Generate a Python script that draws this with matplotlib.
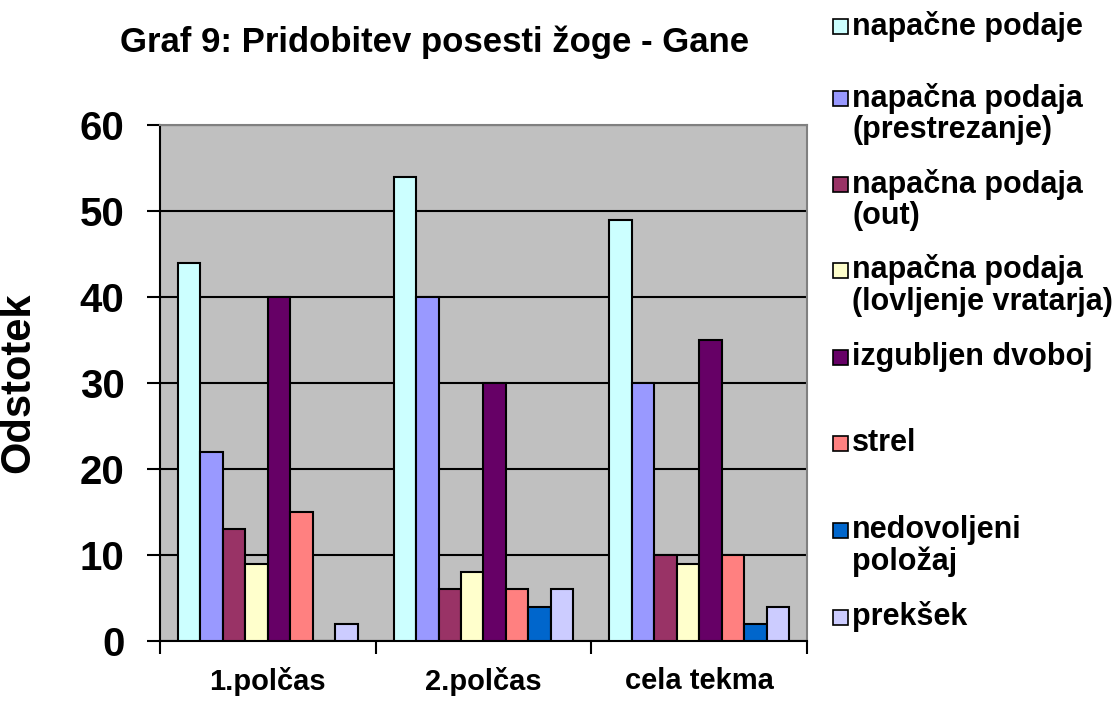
import matplotlib.pyplot as plt
import numpy as np
from matplotlib.patches import Rectangle

plt.rcParams['font.family'] = ['Liberation Sans', 'DejaVu Sans']
plt.rcParams['font.weight'] = 'bold'
plt.rcParams['axes.labelweight'] = 'bold'

categories = ["1.polčas", "2.polčas", "cela tekma"]
series = [
    "napačne podaje",
    "napačna podaja\n(prestrezanje)",
    "napačna podaja\n(out)",
    "napačna podaja\n(lovljenje vratarja)",
    "izgubljen dvoboj",
    "strel",
    "nedovoljeni\npoložaj",
    "prekšek",
]
napacne_podaje = [44, 54, 49]
prestrezanje = [22, 40, 30]
out = [13, 6, 10]
lovljenje_vratarja = [9, 8, 9]
izgubljen_dvoboj = [40, 30, 35]
strel = [15, 6, 10]
nedovoljeni_polozaj = [0, 4, 2]
preksek = [2, 6, 4]
values = [napacne_podaje, prestrezanje, out, lovljenje_vratarja,
          izgubljen_dvoboj, strel, nedovoljeni_polozaj, preksek]
colors = ["#CCFFFF", "#9999FF", "#993366", "#FFFFCC",
          "#660066", "#FF8080", "#0066CC", "#CCCCFF"]

fig = plt.figure(figsize=(11.16, 7.03), dpi=100)
ax = fig.add_axes([160 / 1116, 1 - 641 / 703, (807 - 160) / 1116, (641 - 125) / 703])
ax.set_facecolor("#C0C0C0")

x = np.arange(len(categories))
w = 0.1043
for j, vals in enumerate(values):
    ax.bar(x + (j - 3.5) * w, vals, w, color=colors[j], edgecolor="black",
           linewidth=1.5, zorder=3)

ax.set_xlim(-0.5, 2.5)
ax.set_ylim(0, 60)
ax.set_yticks(range(0, 61, 10))
ax.yaxis.grid(True, color="black", linewidth=1.5, zorder=1)
ax.set_axisbelow(True)

ax.set_xticks(x)
ax.set_xticklabels(categories, fontsize=21)
ax.tick_params(axis="x", length=0, pad=19)
ax.set_xticks([-0.5, 0.5, 1.5, 2.5], minor=True)
ax.tick_params(axis="x", which="minor", length=9, width=1.5, direction="out")
ax.tick_params(axis="y", length=9.5, width=1.5, direction="out", pad=16, labelsize=29)

for s in ["left", "bottom"]:
    ax.spines[s].set_linewidth(1.5)
    ax.spines[s].set_color("black")
for s in ["top", "right"]:
    ax.spines[s].set_linewidth(1.5)
    ax.spines[s].set_color("#808080")

ax.set_ylabel("Odstotek", fontsize=30)
ax.yaxis.set_label_coords(-0.188, 0.5)

fig.text(435 / 1116, 1 - 42 / 703, "Graf 9: Pridobitev posesti žoge - Gane",
         fontsize=25, ha="center", va="center")

# legend drawn by hand to follow the original spacing
entry_y = [26, 98, 184, 270, 357, 443, 530, 617]
for label, col, y in zip(series, colors, entry_y):
    fig.patches.append(Rectangle((833 / 1116, 1 - (y + 8) / 703), 15 / 1116, 15 / 703,
                                 transform=fig.transFigure, facecolor=col,
                                 edgecolor="black", linewidth=1.2))
    for k, line in enumerate(label.split("\n")):
        fig.text(852 / 1116, 1 - (y + 32 * k) / 703, line, fontsize=22,
                 ha="left", va="center")

fig.savefig("out.png", dpi=100)
